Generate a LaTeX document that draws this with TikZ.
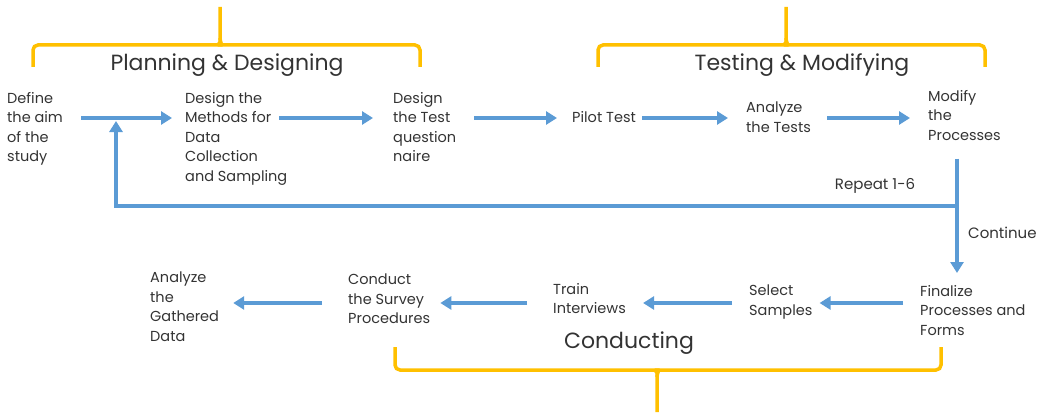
\documentclass[tikz,border=0pt]{standalone}
\usepackage{fontspec}
\setmainfont{Poppins}
\usetikzlibrary{arrows.meta,calc}
\definecolor{flowblue}{HTML}{5B9BD5}
\definecolor{bracegold}{HTML}{FFC000}
\definecolor{ink}{HTML}{333333}
\begin{document}
\begin{tikzpicture}[x=1pt, y=-1pt,
    stage/.style={anchor=north west, align=left, inner sep=0pt, text=ink,
      font=\fontsize{14.5}{19.5}\selectfont},
    phase/.style={inner sep=0pt, text=ink, font=\fontsize{22}{26}\selectfont},
    note/.style={inner sep=0pt, text=ink, font=\fontsize{15}{17}\selectfont},
    flow/.style={draw=flowblue, line width=3.2pt, -{Triangle[length=11pt,width=13pt]}},
    brace/.style={draw=bracegold, line width=3.5pt, rounded corners=5pt}]
  \useasboundingbox (0,0) rectangle (1046,412);

  % phase titles
  \node[phase] (plan) at (227,65) {Planning \& Designing};
  \node[phase] (test) at (802,65) {Testing \& Modifying};
  \node[phase] (cond) at (629,343) {Conducting};

  % braces
  \draw[brace] (33,67) |- (214,45) to[out=0,in=-90] (220,38) -- (220,7);
  \draw[brace] (220,38) to[out=-90,in=180] (226,45) -| (420,67);
  \draw[brace] (598,67) |- (780,45) to[out=0,in=-90] (786,38) -- (786,7);
  \draw[brace] (786,38) to[out=-90,in=180] (792,45) -| (985,67);
  \draw[brace] (395,347) |- (651,370) to[out=0,in=90] (657,377) -- (657,412);
  \draw[brace] (657,377) to[out=90,in=180] (663,370) -| (941,347);

  % first row
  \node[stage] (define) at (7,92) {Define\\the aim\\of the\\study};
  \node[stage] (methods) at (185,92) {Design the\\Methods for\\Data\\Collection\\and Sampling};
  \node[stage] (quest) at (393,92) {Design\\the Test\\question\\naire};
  \node[stage] (pilot) at (572,111) {Pilot Test};
  \node[stage] (tests) at (746,102) {Analyze\\the Tests};
  \node[stage] (modify) at (928,90) {Modify\\the\\Processes};

  % second row, right to left
  \node[stage] (final) at (920,285) {Finalize\\Processes and\\Forms};
  \node[stage] (samples) at (749,285) {Select\\Samples};
  \node[stage] (train) at (553,283) {Train\\Interviews};
  \node[stage] (survey) at (348,274) {Conduct\\the Survey\\Procedures};
  \node[stage] (gathered) at (150,272) {Analyze\\the\\Gathered\\Data};

  \coordinate (r1) at (0,118);
  \coordinate (r2) at (0,303);
  \coordinate (split) at (957,206);
  \coordinate (back) at (116,121);

  \draw[flow] ([xshift=18pt]define.east |- r1) -- ([xshift=-13pt]methods.west |- r1);
  \draw[flow] ([xshift=-8pt]methods.east |- r1) -- ([xshift=-20pt]quest.west |- r1);
  \draw[flow] ([xshift=18pt]quest.east |- r1) -- ([xshift=-15pt]pilot.west |- r1);
  \draw[flow] ([xshift=6pt]pilot.east |- r1) -- ([xshift=-18pt]tests.west |- r1);
  \draw[flow] ([xshift=16pt]tests.east |- r1) -- ([xshift=-18pt]modify.west |- r1);

  % loop back or go on
  \draw[draw=flowblue, line width=3.2pt] ([yshift=-18pt]modify.south -| split) -- (split);
  \draw[flow, shorten >=12pt] (split) -- (final.north -| split);
  \draw[flow] (split) -| (back);
  \node[note] (repeat) at (875,186) {Repeat 1-6};
  \node[note, anchor=west] (cont) at (968,233) {Continue};

  \draw[flow] ([xshift=-17pt]final.west |- r2) -- ([xshift=7pt]samples.east |- r2);
  \draw[flow] ([xshift=-17pt]samples.west |- r2) -- ([xshift=17pt]train.east |- r2);
  \draw[flow] ([xshift=-26pt]train.west |- r2) -- ([xshift=10pt]survey.east |- r2);
  \draw[flow] ([xshift=-26pt]survey.west |- r2) -- ([xshift=14pt]gathered.east |- r2);
\end{tikzpicture}
\end{document}
